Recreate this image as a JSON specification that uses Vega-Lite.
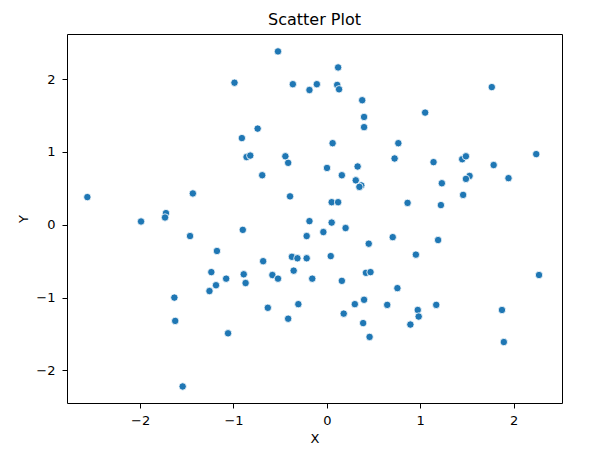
{
  "$schema": "https://vega.github.io/schema/vega-lite/v6.json",
  "width": 495,
  "height": 369,
  "autosize": "none",
  "padding": {"left": 67, "top": 34, "right": 40, "bottom": 55},
  "background": "white",
  "title": {"text": "Scatter Plot", "font": "DejaVu Sans", "fontSize": 16, "fontWeight": "normal", "color": "black", "offset": 6, "anchor": "middle"},
  "config": {
    "view": {"stroke": "black", "strokeWidth": 1},
    "axis": {
      "domain": false, "grid": false,
      "ticks": true, "tickColor": "black", "tickSize": 5, "tickWidth": 1,
      "labelFont": "DejaVu Sans", "labelFontSize": 13, "labelColor": "black",
      "titleFont": "DejaVu Sans", "titleFontSize": 13, "titleFontWeight": "normal", "titleColor": "black"
    }
  },
  "data": {"values": [
    {"x": -0.989, "y": 1.95}, {"x": -2.565, "y": 0.38}, {"x": -1.435, "y": 0.43}, {"x": -1.723, "y": 0.16},
    {"x": -1.733, "y": 0.10}, {"x": -1.990, "y": 0.045}, {"x": -1.465, "y": -0.155}, {"x": -1.177, "y": -0.36},
    {"x": -1.237, "y": -0.65}, {"x": -1.078, "y": -0.74}, {"x": -1.187, "y": -0.83}, {"x": -1.257, "y": -0.91},
    {"x": -1.633, "y": -1.00}, {"x": -1.624, "y": -1.32}, {"x": -1.058, "y": -1.49}, {"x": -1.544, "y": -2.22},
    {"x": -0.523, "y": 2.38}, {"x": 0.121, "y": 2.16}, {"x": -0.364, "y": 1.93}, {"x": -0.107, "y": 1.93},
    {"x": -0.186, "y": 1.85}, {"x": 0.111, "y": 1.92}, {"x": 0.131, "y": 1.86}, {"x": 0.379, "y": 1.71},
    {"x": 0.399, "y": 1.48}, {"x": 0.399, "y": 1.34}, {"x": -0.741, "y": 1.32}, {"x": -0.910, "y": 1.19},
    {"x": 0.062, "y": 1.12}, {"x": 0.766, "y": 1.12}, {"x": -0.860, "y": 0.93}, {"x": -0.820, "y": 0.95},
    {"x": -0.444, "y": 0.94}, {"x": -0.414, "y": 0.85}, {"x": 0.726, "y": 0.91}, {"x": -0.692, "y": 0.68},
    {"x": 0.002, "y": 0.78}, {"x": 0.330, "y": 0.80}, {"x": 0.161, "y": 0.68}, {"x": 0.310, "y": 0.61},
    {"x": 0.369, "y": 0.54}, {"x": 0.349, "y": 0.52}, {"x": -0.394, "y": 0.39}, {"x": 0.052, "y": 0.31},
    {"x": 0.121, "y": 0.31}, {"x": -0.186, "y": 0.05}, {"x": 0.052, "y": 0.03}, {"x": 1.767, "y": 1.89},
    {"x": 1.053, "y": 1.54}, {"x": 1.143, "y": 0.86}, {"x": 1.450, "y": 0.90}, {"x": 1.490, "y": 0.94},
    {"x": 2.243, "y": 0.97}, {"x": 1.787, "y": 0.82}, {"x": 1.232, "y": 0.57}, {"x": 1.529, "y": 0.67},
    {"x": 1.490, "y": 0.63}, {"x": 1.946, "y": 0.64}, {"x": 1.460, "y": 0.41}, {"x": 0.865, "y": 0.30},
    {"x": 1.222, "y": 0.27}, {"x": -0.900, "y": -0.07}, {"x": -0.216, "y": -0.155}, {"x": -0.037, "y": -0.10},
    {"x": 0.201, "y": -0.045}, {"x": 0.449, "y": -0.26}, {"x": 0.706, "y": -0.17}, {"x": -0.682, "y": -0.50},
    {"x": -0.374, "y": -0.44}, {"x": -0.315, "y": -0.46}, {"x": -0.216, "y": -0.46}, {"x": 0.042, "y": -0.43},
    {"x": -0.890, "y": -0.68}, {"x": -0.870, "y": -0.80}, {"x": -0.583, "y": -0.69}, {"x": -0.523, "y": -0.74},
    {"x": -0.355, "y": -0.63}, {"x": -0.156, "y": -0.74}, {"x": 0.161, "y": -0.77}, {"x": 0.419, "y": -0.66},
    {"x": 0.468, "y": -0.65}, {"x": 0.756, "y": -0.87}, {"x": -0.632, "y": -1.14}, {"x": -0.305, "y": -1.09},
    {"x": -0.414, "y": -1.29}, {"x": 0.181, "y": -1.22}, {"x": 0.300, "y": -1.09}, {"x": 0.399, "y": -1.03},
    {"x": 0.647, "y": -1.10}, {"x": 0.389, "y": -1.35}, {"x": 0.458, "y": -1.54}, {"x": 1.192, "y": -0.21},
    {"x": 0.954, "y": -0.41}, {"x": 2.273, "y": -0.69}, {"x": 1.172, "y": -1.10}, {"x": 0.974, "y": -1.17},
    {"x": 0.984, "y": -1.26}, {"x": 0.895, "y": -1.37}, {"x": 1.876, "y": -1.17}, {"x": 1.896, "y": -1.61}
  ]},
  "mark": {"type": "point", "filled": true, "shape": "circle", "size": 55, "color": "#1f77b4", "opacity": 1, "stroke": "white", "strokeWidth": 0.8},
  "encoding": {
    "x": {"field": "x", "type": "quantitative", "title": "X",
          "scale": {"domain": [-2.783, 2.519], "nice": false, "zero": false},
          "axis": {"values": [-2, -1, 0, 1, 2], "format": "d", "labelPadding": 6, "titlePadding": 5}},
    "y": {"field": "y", "type": "quantitative", "title": "Y",
          "scale": {"domain": [-2.447, 2.619], "nice": false, "zero": false},
          "axis": {"values": [-2, -1, 0, 1, 2], "format": "d", "labelPadding": 7, "titlePadding": 5}}
  }
}
